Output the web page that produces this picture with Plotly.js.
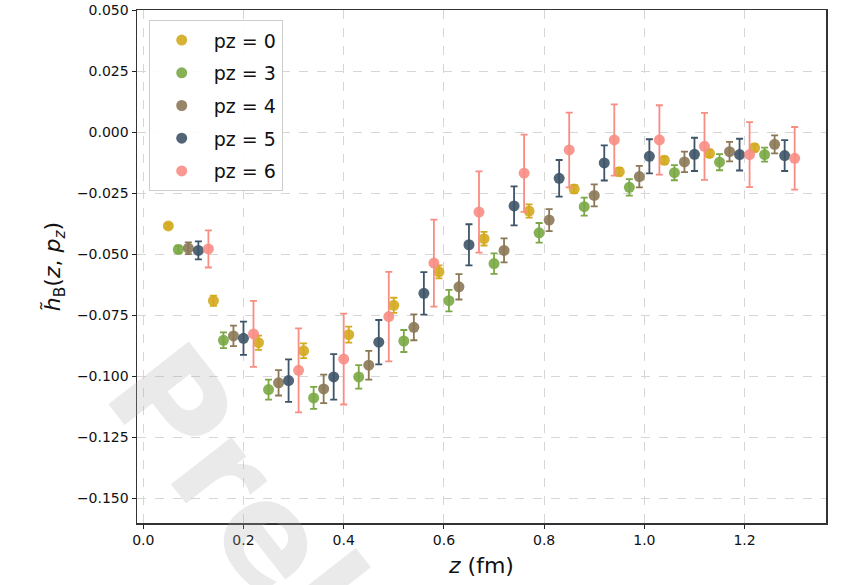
<!DOCTYPE html>
<html>
<head>
<meta charset="utf-8">
<script src="https://cdn.plot.ly/plotly-3.0.1.min.js"></script>
<style>html,body{margin:0;padding:0;background:#fff;}#chart{width:846px;height:585px;}</style>
</head>
<body>
<div id="chart"></div>
<script>
// z positions (fm) for each pz series (slightly shifted per series)
const z_pz0 = [0.05, 0.14, 0.23, 0.32, 0.41, 0.50, 0.59, 0.68, 0.77, 0.86, 0.95, 1.04, 1.13, 1.22];
const z_pz3 = [0.07, 0.16, 0.25, 0.34, 0.43, 0.52, 0.61, 0.70, 0.79, 0.88, 0.97, 1.06, 1.15, 1.24];
const z_pz4 = [0.09, 0.18, 0.27, 0.36, 0.45, 0.54, 0.63, 0.72, 0.81, 0.90, 0.99, 1.08, 1.17, 1.26];
const z_pz5 = [0.11, 0.20, 0.29, 0.38, 0.47, 0.56, 0.65, 0.74, 0.83, 0.92, 1.01, 1.10, 1.19, 1.28];
const z_pz6 = [0.13, 0.22, 0.31, 0.40, 0.49, 0.58, 0.67, 0.76, 0.85, 0.94, 1.03, 1.12, 1.21, 1.30];

// h_B values
const h_pz0 = [-0.0384, -0.0690, -0.0862, -0.0895, -0.0829, -0.0709, -0.0572, -0.0436, -0.0323, -0.0233, -0.0162, -0.0115, -0.0087, -0.0064];
const h_pz3 = [-0.0480, -0.0852, -0.1054, -0.1088, -0.1002, -0.0855, -0.0690, -0.0538, -0.0412, -0.0305, -0.0226, -0.0166, -0.0123, -0.0092];
const h_pz4 = [-0.0475, -0.0834, -0.1026, -0.1051, -0.0954, -0.0799, -0.0633, -0.0484, -0.0360, -0.0259, -0.0182, -0.0122, -0.0080, -0.0050];
const h_pz5 = [-0.0484, -0.0844, -0.1017, -0.1002, -0.0860, -0.0660, -0.0461, -0.0302, -0.0189, -0.0126, -0.0099, -0.0091, -0.0092, -0.0096];
const h_pz6 = [-0.0478, -0.0826, -0.0975, -0.0929, -0.0755, -0.0536, -0.0327, -0.0168, -0.0073, -0.0032, -0.0032, -0.0058, -0.0092, -0.0107];

// error bars
const e_pz0 = [0.0008, 0.0021, 0.0029, 0.0030, 0.0033, 0.0031, 0.0027, 0.0028, 0.0027, 0.0017, 0.0016, 0.0015, 0.0015, 0.0015];
const e_pz3 = [0.0015, 0.0032, 0.0041, 0.0045, 0.0048, 0.0045, 0.0044, 0.0042, 0.0040, 0.0037, 0.0034, 0.0031, 0.0033, 0.0029];
const e_pz4 = [0.0024, 0.0042, 0.0052, 0.0058, 0.0059, 0.0053, 0.0052, 0.0049, 0.0045, 0.0045, 0.0044, 0.0042, 0.0040, 0.0037];
const e_pz5 = [0.0037, 0.0068, 0.0087, 0.0093, 0.0091, 0.0087, 0.0084, 0.0080, 0.0075, 0.0072, 0.0070, 0.0068, 0.0065, 0.0063];
const e_pz6 = [0.0076, 0.0135, 0.0172, 0.0186, 0.0183, 0.0178, 0.0166, 0.0158, 0.0153, 0.0146, 0.0142, 0.0137, 0.0133, 0.0128];

const seriesNames = ['pz = 0', 'pz = 3', 'pz = 4', 'pz = 5', 'pz = 6'];
const seriesColors = ['#d4aa1f', '#7aa844', '#8b7956', '#3e5468', '#f88d84'];

const zs = [z_pz0, z_pz3, z_pz4, z_pz5, z_pz6];
const hs = [h_pz0, h_pz3, h_pz4, h_pz5, h_pz6];
const es = [e_pz0, e_pz3, e_pz4, e_pz5, e_pz6];

const traces = seriesNames.map((name, i) => ({
  type: 'scatter',
  mode: 'markers',
  name: name,
  legendgroup: 'g' + i,
  x: zs[i],
  y: hs[i],
  error_y: {type: 'data', array: es[i], visible: true, color: seriesColors[i], thickness: 1.8, width: 3.5},
  marker: {color: seriesColors[i], size: 11, opacity: 0.9, line: {width: 0}}
}));

const layout = {
  width: 846, height: 585,
  margin: {l: 136.5, r: 19.5, t: 10, b: 62},
  paper_bgcolor: '#ffffff', plot_bgcolor: '#ffffff',
  font: {family: 'DejaVu Sans', color: '#111'},
  showlegend: true,
  legend: {
    x: 0.017, y: 0.98, xanchor: 'left', yanchor: 'top',
    bgcolor: 'rgba(255,255,255,0.9)', bordercolor: '#cccccc', borderwidth: 1,
    font: {size: 19, family: 'DejaVu Sans', color: '#111'},
    tracegroupgap: 5, itemwidth: 54, traceorder: 'grouped'
  },
  xaxis: {
    range: [-0.0125, 1.3625],
    tickvals: [0, 0.2, 0.4, 0.6, 0.8, 1.0, 1.2],
    ticktext: ['0.0', '0.2', '0.4', '0.6', '0.8', '1.0', '1.2'],
    ticks: 'outside', ticklen: 4, tickwidth: 1, tickcolor: '#222',
    tickfont: {size: 14, family: 'DejaVu Sans', color: '#111'},
    showline: true, linecolor: '#333', linewidth: 1.5, mirror: true,
    showgrid: true, gridcolor: '#d6d6d6', griddash: 'dash', gridwidth: 1,
    zeroline: false,
    title: {text: '<i>z</i> (fm)', font: {size: 22, family: 'DejaVu Sans', color: '#111'}, standoff: 10}
  },
  yaxis: {
    range: [-0.16, 0.05],
    tickvals: [-0.15, -0.125, -0.1, -0.075, -0.05, -0.025, 0, 0.025, 0.05],
    tickformat: '.3f',
    ticks: 'outside', ticklen: 4, tickwidth: 1, tickcolor: '#222',
    tickfont: {size: 14, family: 'DejaVu Sans', color: '#111'},
    showline: true, linecolor: '#333', linewidth: 1.5, mirror: true,
    showgrid: true, gridcolor: '#d6d6d6', griddash: 'dash', gridwidth: 1,
    zeroline: false,
    title: {text: '<i>h̃</i><sub>B</sub>(<i>z</i>, <i>p</i><sub><i>z</i></sub>)', font: {size: 22, family: 'DejaVu Sans', color: '#111'}, standoff: 10}
  },
  annotations: [{
    text: 'Preliminary', xref: 'paper', yref: 'paper',
    x: 0.41, y: -0.39, xanchor: 'center', yanchor: 'middle',
    textangle: 52, showarrow: false,
    font: {size: 140, family: 'DejaVu Sans', weight: 'bold', color: 'rgba(170,170,170,0.25)'}
  }]
};

Plotly.newPlot('chart', traces, layout, {displayModeBar: false, staticPlot: true});
</script>
</body>
</html>
